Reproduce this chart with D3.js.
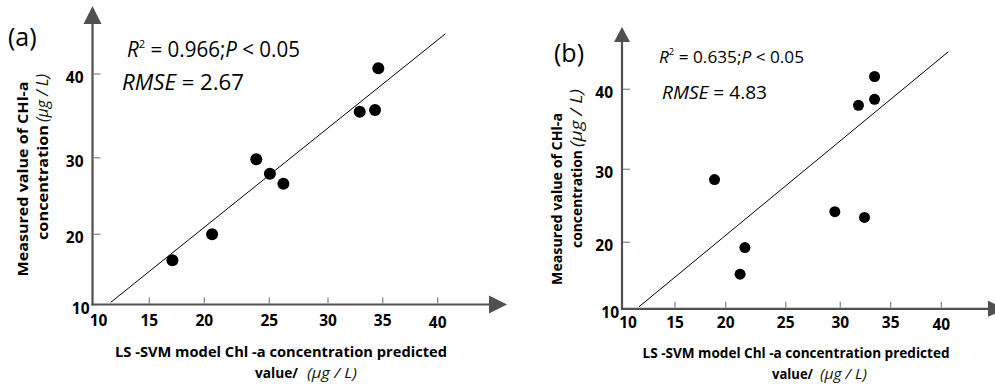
<!DOCTYPE html>
<html>
<head>
<meta charset="utf-8">
<script src="https://cdn.jsdelivr.net/npm/d3@7"></script>
<style>
  body { margin: 0; background: #fff; }
  text { font-family: "Open Sans", "Noto Sans", sans-serif; }
</style>
</head>
<body>
<div class="graphic"></div>
<script>
// tick values (same on both panels)
let xTicks = [10, 15, 20, 25, 30, 35, 40];
let yTicks = [10, 20, 30, 40];

// panel (a) values
let predA = [17.1, 20.6, 24.0, 25.05, 26.2, 32.9, 34.3, 34.6];
let measA = [16.3, 20.0, 29.8, 27.9, 26.6, 35.5, 35.7, 40.7];
let fitXA = [11.6, 40.7];
let fitYA = [10.3, 44.8];
let statsA = ["0.966", "2.67"];

// panel (b) values
let predB = [18.9, 21.6, 21.2, 29.5, 32.4, 31.8, 33.4, 33.4];
let measB = [28.6, 19.2, 15.2, 24.2, 23.4, 38.0, 38.75, 41.6];
let fitXB = [11.6, 40.7];
let fitYB = [10.3, 44.7];
let statsB = ["0.635", "4.83"];

let svg = d3.select(".graphic")
            .append("svg")
            .attr("width", 995)
            .attr("height", 385);

let AXIS = "#505050";
let TICK = "#8a8a8a";

function drawPanel(p) {
    // hand-drawn axes have uneven tick spacing, so use piecewise scales
    let x = d3.scaleLinear().domain(xTicks).range(p.xRange);
    let y = d3.scaleLinear().domain(yTicks).range(p.yRange);
    let g = svg.append("g");
    let x0 = x(10), y0 = y(10);

    // axis lines with arrow heads
    g.append("line").attr("x1", x0).attr("y1", y0 + 1).attr("x2", x0).attr("y2", p.arrowUp[1])
        .attr("stroke", AXIS).attr("stroke-width", 2.2);
    g.append("line").attr("x1", x0 - 1).attr("y1", y0).attr("x2", p.arrowRight[0]).attr("y2", y0)
        .attr("stroke", AXIS).attr("stroke-width", 2.2);
    let hw = p.arrowUp[2];
    g.append("path")
        .attr("d", `M${x0 - hw},${p.arrowUp[1]} L${x0},${p.arrowUp[0]} L${x0 + hw},${p.arrowUp[1]} Z`)
        .attr("fill", AXIS);
    g.append("path")
        .attr("d", `M${p.arrowRight[0]},${y0 - hw} L${p.arrowRight[1]},${y0} L${p.arrowRight[0]},${y0 + hw} Z`)
        .attr("fill", AXIS);

    // ticks
    g.selectAll(".xt").data(xTicks.slice(1)).enter().append("line")
        .attr("x1", d => x(d)).attr("x2", d => x(d))
        .attr("y1", y0 - 1).attr("y2", y0 - 7)
        .attr("stroke", TICK).attr("stroke-width", 1.3);
    g.selectAll(".yt").data(yTicks.slice(1)).enter().append("line")
        .attr("x1", x0 + 1).attr("x2", x0 + 8)
        .attr("y1", d => y(d)).attr("y2", d => y(d))
        .attr("stroke", TICK).attr("stroke-width", 1.3);

    // tick labels
    g.selectAll(".xl").data(xTicks).enter().append("text")
        .attr("x", d => d === 10 ? x(d) + 6 : x(d))
        .attr("y", d => y0 + p.xLabelDy + (d === 40 ? 2 : 0))
        .attr("text-anchor", "middle")
        .attr("font-size", 15.5).attr("font-weight", "bold")
        .text(d => d);
    g.selectAll(".yl").data(yTicks).enter().append("text")
        .attr("x", d => d === 10 ? x0 - 3 : x0 - 9)
        .attr("y", d => d === 10 ? y0 + 9 : y(d) + 9)
        .attr("text-anchor", "end")
        .attr("font-size", 15.5).attr("font-weight", "bold")
        .text(d => d);

    // fitted line
    g.append("line")
        .attr("x1", x(p.fitX[0])).attr("y1", y(p.fitY[0]))
        .attr("x2", x(p.fitX[1])).attr("y2", y(p.fitY[1]))
        .attr("stroke", "#000").attr("stroke-width", 1);

    // points
    g.selectAll(".pt").data(p.pred).enter().append("circle")
        .attr("cx", d => x(d))
        .attr("cy", (d, i) => y(p.meas[i]))
        .attr("r", p.r)
        .attr("fill", "#000");

    // panel label
    g.append("text").attr("x", p.tag[0]).attr("y", p.tag[1])
        .attr("font-size", 25).text(p.name);

    // statistics
    let s1 = g.append("text").attr("x", p.s1[0]).attr("y", p.s1[1])
        .attr("font-size", p.s1[2]).attr("textLength", p.s1[3]).attr("lengthAdjust", "spacingAndGlyphs");
    s1.append("tspan").attr("font-style", "italic").text("R");
    s1.append("tspan").attr("font-size", p.s1[2] * 0.55).attr("dy", -p.s1[2] * 0.45).text("2");
    s1.append("tspan").attr("dy", p.s1[2] * 0.45).text(" = " + p.stats[0] + ";");
    s1.append("tspan").attr("font-style", "italic").text("P");
    s1.append("tspan").text("  < 0.05");

    let s2 = g.append("text").attr("x", p.s2[0]).attr("y", p.s2[1])
        .attr("font-size", p.s2[2]).attr("textLength", p.s2[3]).attr("lengthAdjust", "spacingAndGlyphs");
    s2.append("tspan").attr("font-style", "italic").text("RMSE");
    s2.append("tspan").text("  = " + p.stats[1]);

    // y axis title (two rotated lines)
    g.append("text")
        .attr("transform", `translate(${p.yt1[0]},${p.yt1[1]}) rotate(-90)`)
        .attr("text-anchor", "middle").attr("font-size", 15).attr("font-weight", "bold")
        .attr("textLength", p.yt1[2]).attr("lengthAdjust", "spacingAndGlyphs")
        .text("Measured value of CHl-a");
    g.append("text")
        .attr("transform", `translate(${p.yt2[0]},${p.yt2[1]}) rotate(-90)`)
        .attr("font-size", 15).attr("font-weight", "bold")
        .attr("textLength", p.yt2[2]).attr("lengthAdjust", "spacingAndGlyphs")
        .text("concentration");
    g.append("text")
        .attr("transform", `translate(${p.yt2[0]},${p.yt2[1] - p.yt2[2] - 3}) rotate(-90)`)
        .attr("font-size", 16).attr("font-style", "italic").attr("fill", "#111")
        .attr("textLength", p.yt2[3]).attr("lengthAdjust", "spacingAndGlyphs")
        .text("(\u03bcg / L)");

    // x axis title
    g.append("text").attr("x", p.xt1[0]).attr("y", p.xt1[1])
        .attr("text-anchor", "middle").attr("font-size", 15).attr("font-weight", "bold")
        .attr("textLength", p.xt1[2]).attr("lengthAdjust", "spacingAndGlyphs")
        .text("LS -SVM model Chl -a concentration predicted");
    g.append("text").attr("x", p.xt2[0]).attr("y", p.xt2[1])
        .attr("font-size", 15).attr("font-weight", "bold")
        .attr("textLength", p.xt2[2]).attr("lengthAdjust", "spacingAndGlyphs")
        .text("value/");
    g.append("text").attr("x", p.xt2[3]).attr("y", p.xt2[1])
        .attr("font-size", 15).attr("font-style", "italic").attr("fill", "#111")
        .attr("textLength", p.xt2[4]).attr("lengthAdjust", "spacingAndGlyphs")
        .text("(\u03bcg / L)");
}

drawPanel({
    name: "(a)",
    pred: predA, meas: measA, fitX: fitXA, fitY: fitYA, stats: statsA,
    xRange: [92.5, 149.3, 204.3, 269.3, 328, 382.7, 437.7],
    yRange: [304.5, 234.3, 157.8, 74],
    arrowUp: [6, 24, 9], arrowRight: [489, 507],
    xLabelDy: 21, r: 6,
    tag: [8, 46],
    s1: [127, 57, 21, 173], s2: [122, 90, 22, 122],
    yt1: [28, 179, 195], yt2: [48, 240, 115, 48],
    xt1: [281, 357, 332], xt2: [255, 378, 43, 307, 50]
});

drawPanel({
    name: "(b)",
    pred: predB, meas: measB, fitX: fitXB, fitY: fitYB, stats: statsB,
    xRange: [622, 675, 725.7, 785.7, 840.3, 890.7, 941.3],
    yRange: [308.8, 242.3, 169.3, 89.3],
    arrowUp: [27, 42, 8], arrowRight: [988, 1006],
    xLabelDy: 19, r: 5.5,
    tag: [554, 62],
    s1: [659, 63, 17, 145], s2: [662, 99, 18, 105],
    yt1: [562, 199, 172], yt2: [582, 248, 98, 58],
    xt1: [796, 358, 307], xt2: [772, 379, 41, 820, 47]
});
</script>
</body>
</html>
